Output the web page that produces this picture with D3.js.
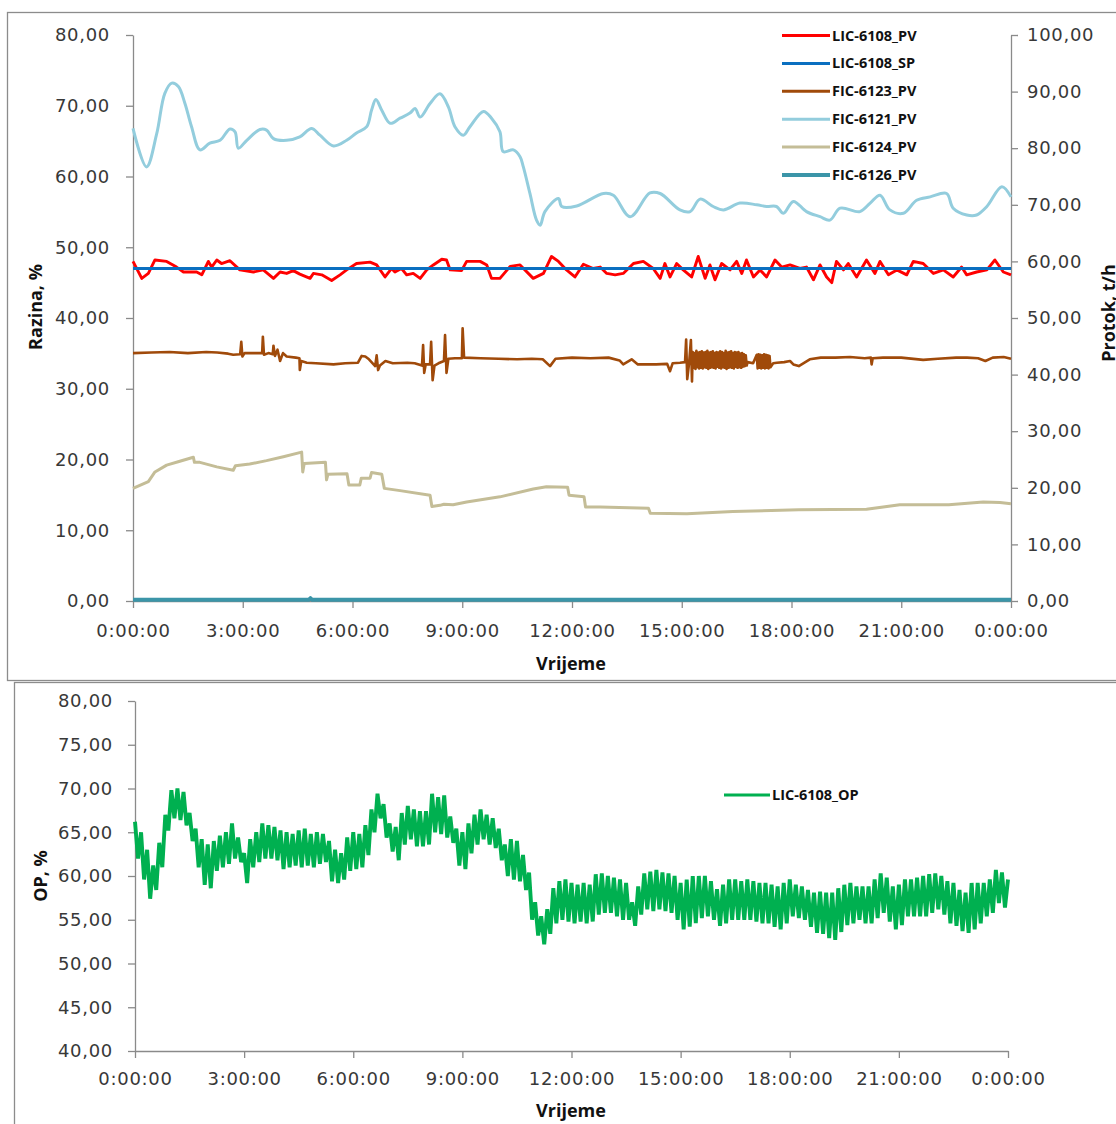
<!DOCTYPE html>
<html><head><meta charset="utf-8">
<script src="https://cdn.jsdelivr.net/npm/d3@7"></script>
<style>
body{margin:0;background:#fff;overflow:hidden}
svg{display:block}
.axis .tick text{font-family:"DejaVu Sans",Verdana,sans-serif;font-size:18px;letter-spacing:0.7px;fill:#383838}
.axis path,.axis line{stroke:#8a8a8a;stroke-width:1.3}
.title{font-family:"Open Sans",Lato,sans-serif;font-weight:bold;font-size:18px;fill:#111}
.leg{font-family:"Open Sans",Lato,sans-serif;font-weight:bold;font-size:14.5px;fill:#111}
</style></head><body>
<svg id="c" width="1116" height="1124"></svg>
<script>
// ---------- data ----------
const hourTicks = [0,3,6,9,12,15,18,21,24];
const hourLabels = ["0:00:00","3:00:00","6:00:00","9:00:00","12:00:00","15:00:00","18:00:00","21:00:00","0:00:00"];
const levelTicks = [0,10,20,30,40,50,60,70,80];
const flowTicks = [0,10,20,30,40,50,60,70,80,90,100];
const opTicks = [40,45,50,55,60,65,70,75,80];

const seriesNames = ["LIC-6108_PV","LIC-6108_SP","FIC-6123_PV","FIC-6121_PV","FIC-6124_PV","FIC-6126_PV"];
const seriesColors = ["#ff0000","#0a6fc0","#a04a0a","#93cddd","#c4bd97","#3b95a8"];

// [hour, %] left axis
const lic6108Pv = [[0,48.0],[0.24,45.6],[0.42,46.3],[0.60,48.2],[0.92,48.0],[1.19,47.2],[1.38,46.5],[1.74,46.5],[1.88,46.1],[2.06,48.0],[2.15,47.2],[2.29,48.2],[2.42,47.7],[2.65,48.1],[2.92,46.8],[3.29,46.5],[3.56,46.8],[3.84,45.6],[4.02,46.5],[4.20,46.3],[4.38,46.7],[4.56,46.2],[4.84,45.6],[4.93,46.3],[5.16,46.1],[5.43,45.3],[5.66,46.1],[5.84,46.8],[6.11,47.7],[6.48,47.9],[6.66,47.5],[6.89,45.8],[7.07,47.0],[7.16,46.5],[7.34,47.0],[7.48,46.1],[7.66,46.3],[7.85,45.6],[8.03,46.8],[8.21,47.5],[8.44,48.3],[8.57,48.2],[8.67,46.8],[8.98,46.7],[9.12,48.0],[9.49,48.0],[9.67,47.5],[9.80,45.6],[10.03,45.6],[10.31,47.3],[10.58,47.5],[10.94,45.6],[11.22,46.3],[11.44,48.7],[11.63,48.0],[11.85,46.8],[12.08,45.8],[12.31,47.6],[12.58,47.0],[12.77,47.2],[12.95,46.3],[13.18,46.1],[13.40,46.3],[13.68,47.7],[13.95,48.0],[14.22,47.0],[14.41,45.6],[14.54,47.7],[14.68,45.8],[14.86,47.7],[15.04,46.8],[15.27,45.8],[15.45,48.7],[15.64,45.6],[15.77,47.5],[15.91,45.4],[16.09,47.7],[16.32,46.8],[16.50,48.0],[16.64,46.3],[16.77,48.2],[16.96,45.8],[17.14,46.8],[17.32,45.8],[17.55,48.2],[17.73,47.2],[17.96,47.5],[18.23,47.0],[18.41,47.2],[18.60,45.4],[18.78,47.5],[18.96,45.8],[19.10,45.0],[19.23,48.0],[19.42,46.8],[19.55,47.7],[19.78,45.8],[20.05,48.2],[20.28,46.3],[20.42,48.0],[20.65,46.1],[20.88,46.8],[21.15,46.1],[21.33,48.0],[21.60,47.7],[21.88,46.3],[22.15,46.8],[22.42,45.8],[22.65,47.2],[22.79,46.1],[23.06,46.5],[23.34,46.8],[23.56,48.2],[23.79,46.5],[24,46.1]];
const lic6108Sp = [[0,47.0],[24,47.0]];

// [hour, t/h] right axis
const fic6123Pv = [[0,43.8],[0.5,43.9],[1.0,44.0],[1.5,43.8],[2.0,44.0],[2.3,43.9],[2.6,43.7],[2.74,43.5],[2.93,43.6],[2.96,45.8],[2.99,43.2],[3.05,43.8],[3.3,43.8],[3.53,43.8],[3.55,46.7],[3.58,43.5],[3.7,43.8],[3.82,43.6],[3.84,45.1],[3.88,43.3],[3.95,44.4],[4.02,42.4],[4.10,43.8],[4.20,43.2],[4.45,43.0],[4.55,42.9],[4.56,40.8],[4.60,42.4],[4.75,42.1],[5.0,42.0],[5.48,41.8],[5.8,42.0],[6.15,42.1],[6.25,43.3],[6.35,43.2],[6.45,42.7],[6.62,41.5],[6.66,43.4],[6.70,40.8],[6.75,41.6],[6.9,42.4],[7.1,42.0],[7.5,42.1],[7.7,42.0],[7.90,41.6],[7.93,45.2],[7.96,40.3],[8.0,41.8],[8.12,41.8],[8.15,45.8],[8.19,39.0],[8.24,41.6],[8.35,42.0],[8.50,42.4],[8.53,47.0],[8.57,40.3],[8.62,42.8],[8.8,42.9],[8.99,42.9],[9.01,48.2],[9.05,43.0],[9.5,42.9],[10.0,42.8],[10.5,42.7],[10.9,42.8],[11.2,42.7],[11.4,41.5],[11.55,42.8],[12.0,43.0],[12.5,42.9],[13.0,43.0],[13.3,42.5],[13.4,41.8],[13.63,42.7],[13.8,41.8],[14.3,41.8],[14.6,41.9],[14.68,40.6],[14.75,42.0],[14.95,42.1],[15.09,42.2],[15.12,46.2],[15.15,39.2],[15.2,42.0],[15.25,46.1],[15.28,38.8],
[15.300,44.0],[15.325,41.2],[15.350,43.8],[15.375,41.0],[15.400,44.2],[15.425,41.3],[15.450,43.9],[15.475,41.1],[15.500,44.0],[15.525,41.2],[15.550,44.1],[15.575,41.1],[15.600,43.9],[15.625,41.3],[15.650,44.0],[15.675,41.2],[15.700,44.2],[15.725,41.0],[15.750,43.9],[15.775,41.2],[15.800,44.0],[15.825,41.3],[15.850,44.1],[15.875,41.2],[15.900,43.8],[15.925,41.1],[15.950,44.0],[15.975,41.4],[16.000,43.9],[16.025,41.2],[16.050,44.1],[16.075,41.1],[16.100,44.0],[16.125,41.3],[16.150,43.8],[16.175,41.2],[16.200,44.2],[16.225,41.0],[16.250,43.9],[16.275,41.2],[16.300,44.0],[16.325,41.3],[16.350,44.1],[16.375,41.2],[16.400,43.8],[16.425,41.1],[16.450,44.0],[16.475,41.4],[16.500,43.9],[16.525,41.2],[16.550,44.0],[16.575,41.3],[16.600,43.7],[16.625,41.2],[16.650,43.8],[16.675,41.4],[16.700,43.6],[16.725,41.5],[16.750,43.4],[16.775,41.6],[16.800,42.2],
[16.95,42.0],[17.050,43.5],[17.075,41.1],[17.100,43.6],[17.125,41.2],[17.150,43.5],[17.175,41.1],[17.200,43.4],[17.225,41.2],[17.250,43.6],[17.275,41.1],[17.300,43.5],[17.325,41.2],[17.350,43.4],[17.375,41.1],[17.400,43.3],[17.425,41.3],
[17.5,42.0],[17.6,42.1],[17.8,42.2],[17.96,42.4],[18.05,41.8],[18.2,41.5],[18.5,42.7],[18.8,43.0],[19.2,43.0],[19.6,43.1],[20.0,42.9],[20.17,43.0],[20.19,41.8],[20.22,42.9],[20.5,43.0],[21.0,43.0],[21.6,42.6],[22.0,42.8],[22.5,43.0],[22.8,43.0],[23.1,42.9],[23.3,42.4],[23.5,43.0],[23.8,43.1],[24,42.8]];
const fic6121Pv = [[0,83.5],[0.37,76.7],[0.65,82.6],[0.87,89.7],[1.06,91.5],[1.24,90.9],[1.42,87.9],[1.60,83.8],[1.83,79.7],[2.10,80.9],[2.38,81.4],[2.65,83.4],[2.79,82.9],[2.88,80.0],[3.11,81.4],[3.47,83.3],[3.65,83.2],[3.84,81.7],[4.20,81.4],[4.56,82.0],[4.88,83.5],[5.11,82.3],[5.48,80.4],[5.84,81.4],[6.11,82.7],[6.39,83.8],[6.52,86.7],[6.64,88.6],[6.80,86.7],[7.03,84.4],[7.30,85.3],[7.57,86.2],[7.71,87.0],[7.85,85.5],[8.12,87.9],[8.39,89.6],[8.62,87.3],[8.80,83.8],[9.03,82.3],[9.21,83.8],[9.58,86.5],[9.80,85.3],[10.03,82.9],[10.12,79.4],[10.40,79.7],[10.58,78.5],[10.67,76.7],[10.85,72.0],[11.03,67.3],[11.13,66.4],[11.26,68.8],[11.63,71.1],[11.72,69.7],[12.13,69.8],[12.86,72.0],[13.13,71.7],[13.59,67.9],[14.13,72.1],[14.41,72.0],[14.95,69.1],[15.23,68.8],[15.50,71.0],[15.86,69.7],[16.14,69.1],[16.59,70.3],[17.05,70.0],[17.32,69.7],[17.59,69.7],[17.78,68.5],[18.05,70.6],[18.41,68.8],[18.78,67.9],[19.05,67.3],[19.33,69.4],[19.87,68.8],[20.15,70.3],[20.42,71.7],[20.69,69.1],[21.06,68.5],[21.42,70.8],[21.79,71.4],[22.24,72.0],[22.42,69.4],[22.79,68.2],[23.06,68.2],[23.34,69.7],[23.75,73.2],[24,71.4]];
const fic6124Pv = [[0,19.9],[0.42,21.1],[0.60,22.8],[0.92,24.0],[1.28,24.7],[1.65,25.4],[1.68,24.5],[1.83,24.5],[2.29,23.7],[2.74,23.1],[2.80,23.9],[3.19,24.2],[3.65,24.8],[4.11,25.5],[4.61,26.3],[4.64,22.8],[4.68,24.3],[5.26,24.5],[5.29,21.4],[5.33,22.4],[5.85,22.5],[5.90,20.5],[6.20,20.5],[6.24,21.7],[6.48,21.7],[6.52,22.7],[6.80,22.4],[6.87,19.9],[7.30,19.5],[8.12,18.7],[8.17,16.7],[8.39,16.9],[8.5,17.1],[8.75,17.0],[9.12,17.5],[10.03,18.4],[10.94,19.8],[11.3,20.2],[11.88,20.1],[11.92,18.7],[12.33,18.4],[12.37,16.6],[12.77,16.6],[14.09,16.4],[14.14,15.5],[15.14,15.4],[16.4,15.8],[18.2,16.1],[20.05,16.2],[20.96,17.0],[22.3,17.0],[23.24,17.5],[23.7,17.4],[24,17.2]];
const fic6126Pv = [[0,0.2],[4.8,0.2],[4.85,0.5],[4.9,0.2],[24,0.2]];

// LIC-6108_OP, %, one reading every 5 minutes from 0:00 to 24:00
const opStepMinutes = 5;
const lic6108Op = [
66.2,62.0,65.0,59.6,63.0,57.4,61.2,58.4,63.8,61.0,67.0,65.2,
69.8,66.6,70.0,66.4,69.6,65.8,67.2,64.0,65.4,61.0,64.2,59.0,
63.6,58.6,64.0,60.6,64.6,61.0,65.0,61.4,66.0,62.0,64.4,61.6,
62.6,59.2,64.2,61.0,65.0,61.6,66.0,62.0,65.8,62.0,65.6,61.8,
65.2,60.8,65.0,61.0,64.8,61.2,65.2,61.0,65.4,61.2,64.8,61.0,
65.0,61.4,64.8,61.6,64.0,59.4,63.0,59.2,62.6,59.6,64.4,60.6,
65.0,60.8,64.8,61.0,65.8,62.4,67.6,65.0,69.4,66.6,68.2,64.4,
66.0,62.8,65.6,61.8,67.2,63.6,68.0,64.2,67.6,63.4,67.4,63.4,
67.4,63.6,69.4,65.0,69.0,64.8,69.2,64.4,66.8,63.8,65.4,61.2,
65.0,60.8,66.0,62.6,67.0,63.6,67.6,64.2,67.0,63.6,66.6,63.2,
65.4,61.8,63.6,60.0,64.2,59.6,64.0,59.4,62.4,58.4,60.4,55.0,
57.0,53.2,55.4,52.2,56.2,53.4,58.6,54.6,59.4,55.0,59.6,54.8,
59.2,54.6,59.0,54.8,59.2,54.6,59.0,54.8,60.2,55.6,60.3,55.8,
60.0,55.8,59.8,55.4,59.6,55.0,59.2,55.0,57.0,54.3,58.8,55.6,
60.3,56.2,60.5,56.0,60.7,56.2,60.4,56.0,60.3,55.8,60.0,55.0,
59.2,53.9,59.6,54.2,60.0,54.6,60.0,55.2,60.0,55.4,59.4,55.0,
58.5,54.3,59.0,54.6,59.6,55.0,59.6,55.0,59.4,55.0,59.6,55.0,
59.4,54.8,59.2,54.6,59.2,54.6,59.0,54.2,58.8,53.9,59.2,54.6,
59.6,55.4,59.0,55.2,58.8,55.0,58.4,54.2,58.1,53.5,58.2,53.4,
58.1,52.9,58.1,52.7,58.6,53.6,59.0,54.4,59.2,54.6,58.8,55.0,
58.8,54.6,58.8,54.6,59.6,55.2,60.3,55.8,59.8,54.8,58.8,53.9,
59.0,54.4,59.6,55.4,59.6,55.4,59.8,55.4,60.0,55.4,60.2,55.8,
60.3,56.2,60.0,55.6,59.4,54.6,59.2,54.3,58.4,53.7,58.1,53.5,
59.2,53.9,59.2,54.6,59.2,55.4,59.6,55.8,60.7,56.9,60.4,56.4,
59.6];

// ---------- drawing ----------
const fmt = v => d3.format(".2f")(v).replace(".", ",");
const svg = d3.select("#c");

// frames
svg.append("rect").attr("x",7.5).attr("y",12.5).attr("width",1125).attr("height",668)
  .attr("fill","#fff").attr("stroke","#8c8c8c").attr("stroke-width",1.3);
svg.append("rect").attr("x",14.5).attr("y",682.5).attr("width",1120).attr("height",470)
  .attr("fill","#fff").attr("stroke","#8c8c8c").attr("stroke-width",1.3);

// ---- top chart ----
const xTop = d3.scaleLinear().domain([0,24]).range([133,1011]);
const yLeft = d3.scaleLinear().domain([0,80]).range([601,35]);
const yRight = d3.scaleLinear().domain([0,100]).range([601,35]);

svg.append("g").attr("class","axis").attr("transform","translate(133,0)")
  .call(d3.axisLeft(yLeft).tickValues(levelTicks).tickFormat(fmt).tickSize(7).tickSizeOuter(0).tickPadding(16));
svg.append("g").attr("class","axis").attr("transform","translate(1011,0)")
  .call(d3.axisRight(yRight).tickValues(flowTicks).tickFormat(fmt).tickSize(7).tickSizeOuter(0).tickPadding(9));
svg.append("g").attr("class","axis").attr("transform","translate(0,601)")
  .call(d3.axisBottom(xTop).tickValues(hourTicks).tickFormat((d,i)=>hourLabels[i]).tickSize(7).tickSizeOuter(0).tickPadding(16));

const lineL = d3.line().x(d=>xTop(d[0])).y(d=>yLeft(d[1]));
const lineR = d3.line().x(d=>xTop(d[0])).y(d=>yRight(d[1]));
const lineRSmooth = d3.line().x(d=>xTop(d[0])).y(d=>yRight(d[1])).curve(d3.curveCatmullRom.alpha(0.5));

const topSeries = [
  {data:lic6108Pv, line:lineL, w:2.9},
  {data:lic6108Sp, line:lineL, w:3},
  {data:fic6123Pv, line:lineR, w:2.6},
  {data:fic6121Pv, line:lineRSmooth, w:3},
  {data:fic6124Pv, line:lineR, w:3},
  {data:fic6126Pv, line:lineR, w:4}
];
topSeries.forEach((s,i)=>{
  svg.append("path").attr("d",s.line(s.data)).attr("fill","none")
    .attr("stroke",seriesColors[i]).attr("stroke-width",s.w).attr("stroke-linejoin","round");
});

// legend top
const lg = svg.append("g");
seriesNames.forEach((n,i)=>{
  const y = 35.5 + i*27.9;
  lg.append("line").attr("x1",782).attr("x2",830).attr("y1",y).attr("y2",y)
    .attr("stroke",seriesColors[i]).attr("stroke-width",i===5?4:3);
  lg.append("text").attr("class","leg").attr("x",832).attr("y",y+5).text(n);
});

svg.append("text").attr("class","title").attr("x",571).attr("y",670).attr("text-anchor","middle").text("Vrijeme");
svg.append("text").attr("class","title").attr("transform","translate(42,307) rotate(-90)").attr("text-anchor","middle").text("Razina, %");
svg.append("text").attr("class","title").attr("transform","translate(1115,313) rotate(-90)").attr("text-anchor","middle").text("Protok, t/h");

// ---- bottom chart ----
const xBot = d3.scaleLinear().domain([0,24]).range([135,1008]);
const yOp = d3.scaleLinear().domain([40,80]).range([1051,701]);

svg.append("g").attr("class","axis").attr("transform","translate(135,0)")
  .call(d3.axisLeft(yOp).tickValues(opTicks).tickFormat(fmt).tickSize(7).tickSizeOuter(0).tickPadding(15));
svg.append("g").attr("class","axis").attr("transform","translate(0,1051)")
  .call(d3.axisBottom(xBot).tickValues(hourTicks).tickFormat((d,i)=>hourLabels[i]).tickSize(7).tickSizeOuter(0).tickPadding(14));

const opLine = d3.line().x((d,i)=>xBot(i*opStepMinutes/60)).y(d=>yOp(d));
svg.append("path").attr("d",opLine(lic6108Op)).attr("fill","none")
  .attr("stroke","#00b050").attr("stroke-width",3.9).attr("stroke-linejoin","miter").attr("stroke-miterlimit",2);

svg.append("line").attr("x1",724).attr("x2",770).attr("y1",795).attr("y2",795)
  .attr("stroke","#00b050").attr("stroke-width",3);
svg.append("text").attr("class","leg").attr("x",772).attr("y",800).text("LIC-6108_OP");

svg.append("text").attr("class","title").attr("x",571).attr("y",1117).attr("text-anchor","middle").text("Vrijeme");
svg.append("text").attr("class","title").attr("transform","translate(47,876) rotate(-90)").attr("text-anchor","middle").text("OP, %");
</script></body></html>
